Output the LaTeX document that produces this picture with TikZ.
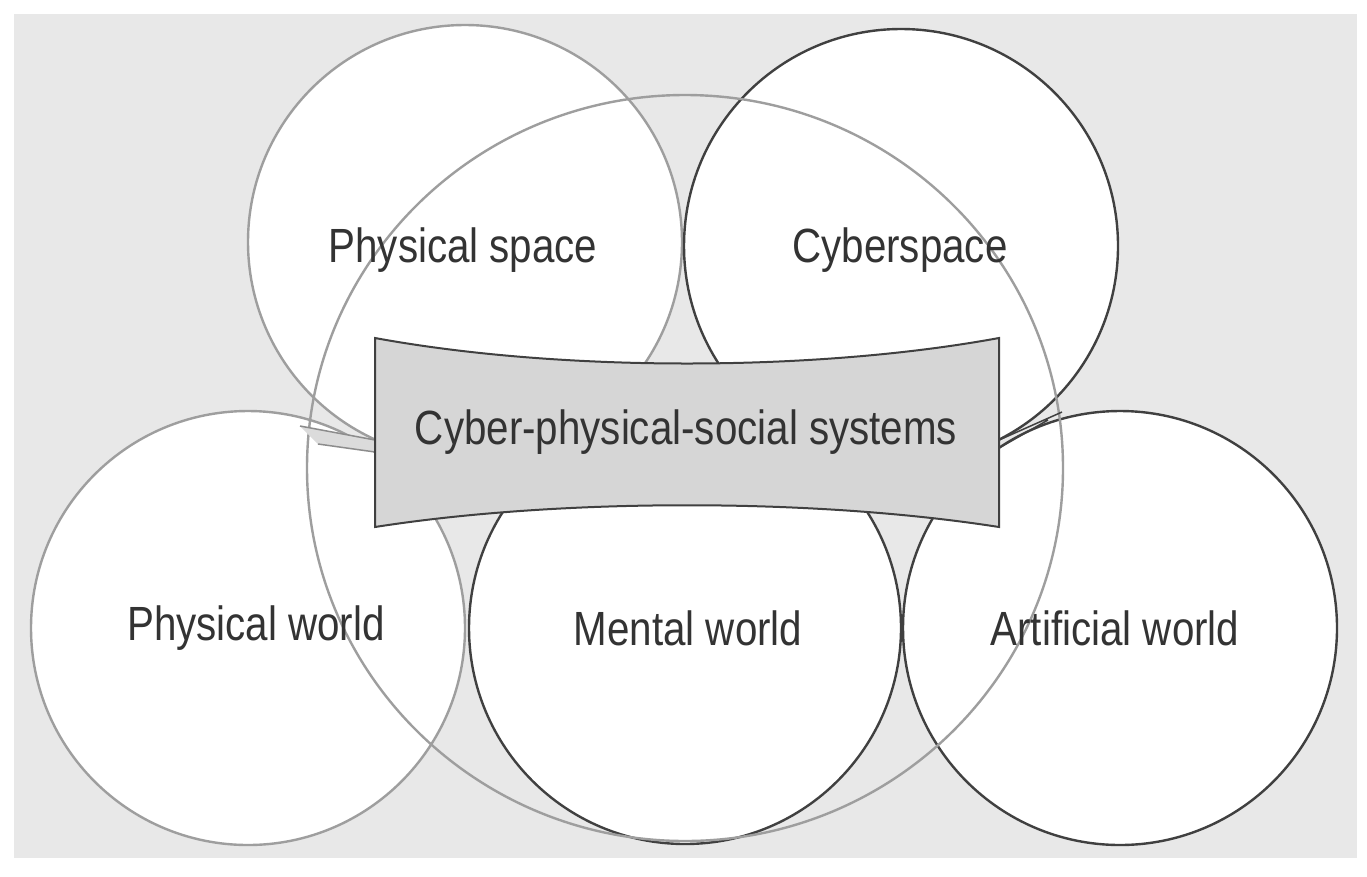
\documentclass[tikz,border=0pt]{standalone}
\usepackage{fontspec}
\setmainfont{Liberation Sans}[FakeStretch=0.84]
\begin{document}
\begin{tikzpicture}[x=1pt,y=-1pt,
  lbl/.style={font=\fontsize{48}{52}\selectfont, text=black!80},
  lite/.style={draw=black!38, line width=2.4pt},
  dark/.style={draw=black!75, line width=2.4pt}]
\useasboundingbox (0,0) rectangle (1367,876);
\fill[white] (0,0) rectangle (1367,876);
\fill[black!9] (14,14) rectangle (1357,858);
% white fills
\foreach \c in {(465,242),(901,246),(248,628),(685,628),(1120,628)}
  \fill[white] \c circle (217);
% outlines
\draw[lite] (465,242) circle (217);
\draw[lite] (248,628) circle (217);
\draw[dark] (901,246) circle (217);
\draw[dark] (685,628) circle (216);
\draw[dark] (1120,628) circle (217);
\draw[lite] (685,468) ellipse (378 and 373);
% central box tails
\coordinate (tl1) at (300,426);
\coordinate (tl2) at (318,444);
\coordinate (tr1) at (1062,412);
\coordinate (tr2) at (1048,420);
\fill[black!14] (375,440) -- (tl1) -- (tl2) -- (375,452) -- cycle;
\draw[black!45, line width=1.5pt] (375,440) -- (tl1) (375,452) -- (tl2);
\draw[black!75, line width=1.5pt] (999,440) -- (tr1) (999,448) -- (tr2);
% central box
\draw[black!75, line width=2pt, fill=black!16]
  (375,338) .. controls (560,372) and (814,372) .. (999,338)
  -- (999,527) .. controls (814,498) and (560,498) .. (375,527) -- cycle;
\node[lbl] (ps) at (463,250) {Physical space};
\node[lbl] (cs) at (900,250) {Cyberspace};
\node[lbl] (cpss) at (686,432) {Cyber-physical-social systems};
\node[lbl] (pw) at (256,628) {Physical world};
\node[lbl] (mw) at (688,628) {Mental world};
\node[lbl] (aw) at (1115,628) {Artificial world};
\end{tikzpicture}
\end{document}
